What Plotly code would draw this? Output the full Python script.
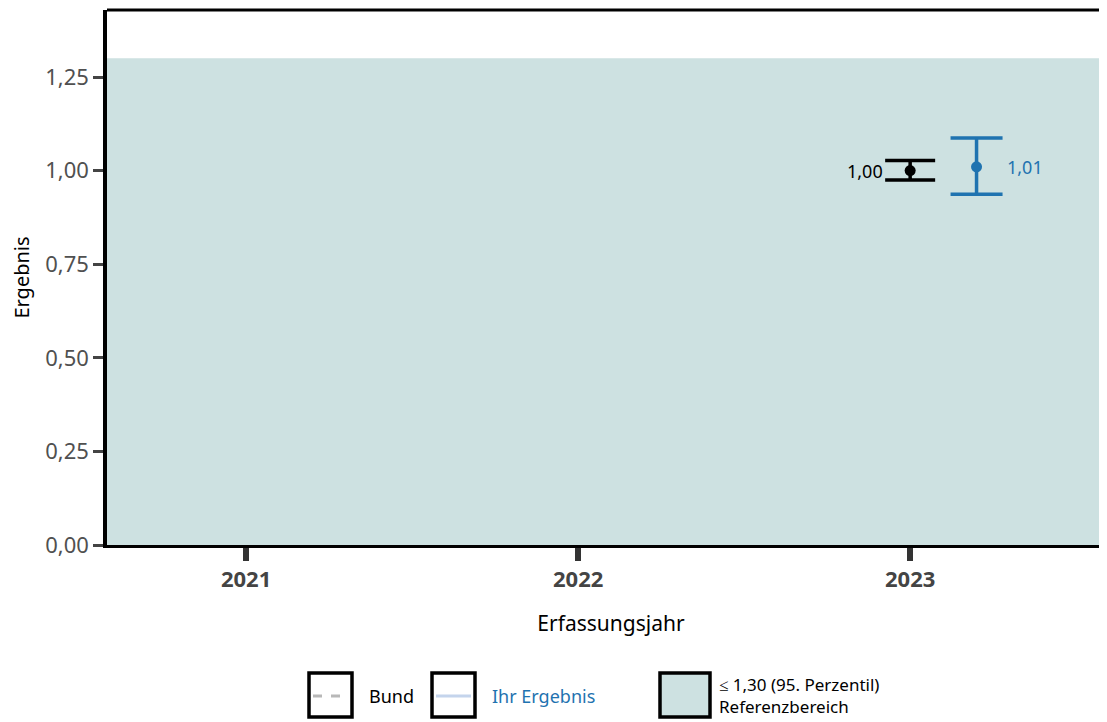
import plotly.graph_objects as go

years = [2021, 2022, 2023]
year_labels = ["2021", "2022", "2023"]
y_ticks = [0, 0.25, 0.5, 0.75, 1.0, 1.25]
y_tick_labels = ["0,00", "0,25", "0,50", "0,75", "1,00", "1,25"]

ref_upper = 1.30

bund_x = [2023]
bund_val = [1.00]
bund_lo = [0.975]
bund_hi = [1.027]
bund_text = ["1,00"]

ihr_x = [2023.2]
ihr_val = [1.01]
ihr_lo = [0.937]
ihr_hi = [1.087]
ihr_text = ["1,01"]

FONT = "Noto Sans"
TEAL = "#cde1e1"
BLUE = "#1f73b0"

fig = go.Figure()

# Referenzbereich
fig.add_hrect(y0=0, y1=ref_upper, fillcolor=TEAL, line_width=0, layer="below")

fig.add_trace(go.Scatter(
    x=bund_x, y=bund_val, mode="markers",
    marker=dict(color="black", size=11),
    error_y=dict(type="data", symmetric=False,
                 array=[h - v for h, v in zip(bund_hi, bund_val)],
                 arrayminus=[v - l for v, l in zip(bund_val, bund_lo)],
                 color="black", thickness=3.5, width=25),
    showlegend=False, cliponaxis=False,
))

fig.add_trace(go.Scatter(
    x=ihr_x, y=ihr_val, mode="markers",
    marker=dict(color=BLUE, size=11),
    error_y=dict(type="data", symmetric=False,
                 array=[h - v for h, v in zip(ihr_hi, ihr_val)],
                 arrayminus=[v - l for v, l in zip(ihr_val, ihr_lo)],
                 color=BLUE, thickness=3.5, width=26),
    showlegend=False, cliponaxis=False,
))

for x, y, t in zip(bund_x, bund_val, bund_text):
    fig.add_annotation(x=x, y=y, text=t, showarrow=False, xanchor="right", xshift=-25,
                       font=dict(family=FONT, size=18, color="black"))
for x, y, t in zip(ihr_x, ihr_val, ihr_text):
    fig.add_annotation(x=x, y=y, text=t, showarrow=False, xanchor="left", xshift=28,
                       font=dict(family=FONT, size=18, color=BLUE))

fig.update_layout(
    width=1107, height=722,
    margin=dict(l=99, r=0, t=2, b=185),
    paper_bgcolor="white", plot_bgcolor="white",
    font=dict(family=FONT, color="#555555"),
    xaxis=dict(
        range=[2020.581, 2023.617], tickvals=years, ticktext=year_labels,
        ticks="outside", ticklen=13, tickwidth=6, tickcolor="#333333",
        tickfont=dict(family=FONT, size=22, color="#444444", weight="bold"),
        showgrid=False, zeroline=False,
        showline=True, linecolor="black", linewidth=3,
        title=dict(text="Erfassungsjahr", font=dict(family=FONT, size=21, color="black"), standoff=24),
    ),
    yaxis=dict(
        range=[0, 1.429], tickvals=y_ticks, ticktext=y_tick_labels,
        ticks="outside", ticklen=10, tickwidth=3, tickcolor="#444444",
        tickfont=dict(family=FONT, size=22, color="#505050"),
        showgrid=False, zeroline=False,
        showline=True, linecolor="black", linewidth=3.5,
        title=dict(text="Ergebnis", font=dict(family=FONT, size=20, color="black"), standoff=12),
    ),
)

# top border
fig.add_shape(type="line", xref="paper", yref="paper", x0=0, x1=1, y0=1, y1=1,
              line=dict(color="black", width=3))

# legend drawn below the chart (plot area spans screen x 107..1115, y 10..545)
def px_x(p):
    return (p - 107) / 1008

def px_y(p):
    return (545 - p) / 535

box_top, box_bot = 673, 717
legend_boxes = [(309, 352, "white"), (432, 475, "white"), (660, 710, TEAL)]
for x0, x1, fill in legend_boxes:
    fig.add_shape(type="rect", xref="paper", yref="paper",
                  x0=px_x(x0), x1=px_x(x1), y0=px_y(box_bot), y1=px_y(box_top),
                  fillcolor=fill, line=dict(color="black", width=3.5))
fig.add_shape(type="line", xref="paper", yref="paper",
              x0=px_x(313), x1=px_x(348), y0=px_y(696), y1=px_y(696),
              line=dict(color="#b8b8b8", width=3, dash="dash"))
fig.add_shape(type="line", xref="paper", yref="paper",
              x0=px_x(436), x1=px_x(471), y0=px_y(696), y1=px_y(696),
              line=dict(color="#c4d4ec", width=3))

fig.add_annotation(xref="paper", yref="paper", x=px_x(367), y=px_y(696), text="Bund",
                   showarrow=False, xanchor="left", yanchor="middle",
                   font=dict(family=FONT, size=18, color="black"))
fig.add_annotation(xref="paper", yref="paper", x=px_x(490), y=px_y(696), text="Ihr Ergebnis",
                   showarrow=False, xanchor="left", yanchor="middle",
                   font=dict(family=FONT, size=18, color=BLUE))
fig.add_annotation(xref="paper", yref="paper", x=px_x(717), y=px_y(695),
                   text="≤ 1,30 (95. Perzentil)<br>Referenzbereich",
                   showarrow=False, xanchor="left", yanchor="middle", align="left",
                   font=dict(family=FONT, size=17, color="black"))

fig.write_html("out.html")
